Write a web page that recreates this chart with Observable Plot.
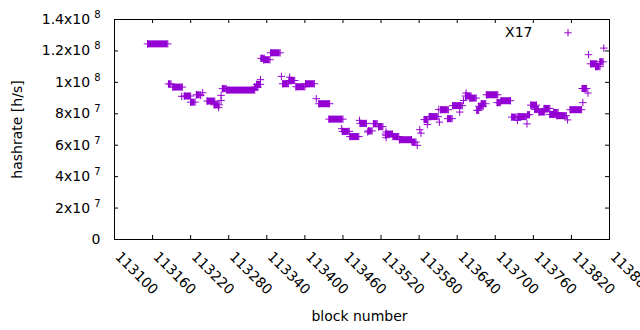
<!DOCTYPE html>
<html><head><meta charset="utf-8">
<script src="https://cdn.jsdelivr.net/npm/d3@7"></script>
<script src="https://cdn.jsdelivr.net/npm/@observablehq/plot@0.6"></script>
<style>
html,body{margin:0;padding:0;background:#fff;}
#chart{width:640px;height:330px;}
</style></head><body><div id="chart"></div>
<script>
// Runs of points (block range with the same hashrate); single points have start == end
const runStart = [113152,113185,113192,113206,113210,113220,113229,113236,113239,113246,113257,113264,113268,113268,113270,113277,113321,113324,113330,113331,113335,113346,113363,113365,113376,113375,113386,113401,113418,113422,113438,113458,113459,113471,113486,113487,113499,113500,113508,113516,113528,113528,113528,113527,113539,113549,113569,113577,113581,113583,113588,113593,113596,113611,113612,113614,113625,113633,113644,113650,113653,113654,113660,113671,113674,113678,113686,113703,113709,113726,113735,113736,113750,113751,113756,113762,113769,113777,113786,113792,113797,113814,113818,113838,113837,113846,113847,113850,113858,113865,113871];
const runEnd   = [113184,113189,113207,113206,113220,113227,113235,113236,113239,113258,113265,113264,113268,113268,113276,113321,113326,113330,113330,113336,113345,113361,113363,113374,113376,113384,113400,113415,113418,113439,113460,113458,113470,113485,113486,113497,113499,113506,113514,113523,113528,113528,113528,113538,113548,113568,113575,113577,113581,113583,113594,113593,113610,113611,113612,113626,113632,113648,113644,113650,113662,113654,113670,113674,113681,113685,113704,113708,113724,113733,113735,113749,113750,113754,113765,113768,113778,113786,113795,113799,113812,113814,113836,113838,113844,113846,113847,113860,113865,113870,113871];
const hashrate = [12.45e7,9.90e7,9.70e7,9.11e7,9.13e7,8.74e7,9.21e7,9.17e7,9.34e7,8.81e7,8.57e7,8.39e7,9.17e7,8.85e7,9.60e7,9.51e7,9.70e7,9.87e7,10.17e7,11.53e7,11.44e7,11.88e7,10.38e7,9.91e7,10.33e7,10.12e7,9.72e7,9.91e7,8.96e7,8.64e7,7.66e7,7.05e7,6.88e7,6.55e7,7.58e7,7.39e7,6.84e7,6.91e7,7.37e7,7.18e7,6.84e7,6.63e7,6.48e7,6.71e7,6.55e7,6.35e7,6.20e7,5.99e7,6.99e7,6.77e7,7.63e7,7.31e7,7.82e7,8.28e7,7.47e7,8.26e7,7.69e7,8.52e7,8.11e7,8.85e7,9.13e7,9.32e7,9.00e7,8.22e7,8.48e7,8.64e7,9.21e7,8.71e7,8.83e7,7.79e7,7.58e7,7.82e7,7.36e7,7.94e7,8.55e7,8.28e7,8.11e7,8.34e7,7.96e7,8.08e7,7.88e7,7.61e7,8.26e7,8.71e7,9.61e7,9.32e7,11.76e7,11.18e7,11.00e7,11.31e7,12.18e7];

const xTicks = [113100,113160,113220,113280,113340,113400,113460,113520,113580,113640,113700,113760,113820,113880];
const yTicks = [0,2e7,4e7,6e7,8e7,1e8,1.2e8,1.4e8];
const yTickLabels = ["0","2x10^7","4x10^7","6x10^7","8x10^7","1x10^8","1.2x10^8","1.4x10^8"];
const seriesName = "X17";
const xLabel = "block number";
const yLabel = "hashrate [h/s]";

const color = "#9400d3";
const W = 640, H = 330, mL = 114, mR = 31, mT = 19, mB = 91;
const plotW = W - mL - mR, plotH = H - mT - mB;

const runs = runStart.map((b1, i) => ({b1, b2: runEnd[i], v: hashrate[i]}));
const ends = runs.flatMap(d => d.b2 > d.b1 ? [{b: d.b1, v: d.v}, {b: d.b2, v: d.v}] : [{b: d.b1, v: d.v}]);

const plusSymbol = {
  draw(ctx, size) {
    const r = Math.sqrt(size / Math.PI);
    ctx.moveTo(-r, 0); ctx.lineTo(r, 0);
    ctx.moveTo(0, -r); ctx.lineTo(0, r);
  }
};

const chart = Plot.plot({
  width: W, height: H,
  marginLeft: mL, marginRight: mR, marginTop: mT, marginBottom: mB,
  style: {fontFamily: "'DejaVu Sans', sans-serif", fontSize: "14px", color: "#000", background: "#fff"},
  x: {domain: [113100, 113880], axis: null},
  y: {domain: [0, 1.4e8]},
  marks: [
    Plot.frame({stroke: "#000", strokeWidth: 1}),
    // inward ticks: bottom / top
    Plot.ruleX(xTicks.slice(1, -1), {x: d => d, insetTop: plotH - 4, stroke: "#000"}),
    Plot.ruleX(xTicks.slice(1, -1), {x: d => d, insetBottom: plotH - 4, stroke: "#000"}),
    // inward ticks: left / right
    Plot.ruleY(yTicks.slice(1, -1), {y: d => d, insetRight: plotW - 4, stroke: "#000"}),
    Plot.ruleY(yTicks.slice(1, -1), {y: d => d, insetLeft: plotW - 4, stroke: "#000"}),
    Plot.axisY({ticks: yTicks, tickSize: 0, tickPadding: 14, label: null,
      tickFormat: d => yTickLabels[yTicks.indexOf(d)]}),
    Plot.text(xTicks, {x: d => d, text: d => String(d), frameAnchor: "bottom", rotate: 45,
      textAnchor: "start", lineAnchor: "bottom", dy: 18, fill: "#000"}),
    Plot.text([xLabel], {frameAnchor: "bottom", lineAnchor: "bottom", textAnchor: "middle", dx: -2.5, dy: 81.5, fill: "#000"}),
    Plot.text([yLabel], {frameAnchor: "left", textAnchor: "middle", lineAnchor: "middle", dx: -97, rotate: -90, fill: "#000"}),
    // data
    Plot.ruleY(runs.filter(d => d.b2 > d.b1), {x1: "b1", x2: "b2", y: "v", stroke: color, strokeWidth: 7}),
    Plot.dot(ends, {x: "b", y: "v", symbol: plusSymbol, r: 3.7, stroke: color, strokeWidth: 1, fill: "none"}),
    // legend
    Plot.text([seriesName], {frameAnchor: "top-right", lineAnchor: "middle", dx: -77, dy: 12.8, textAnchor: "end", fill: "#000"}),
    Plot.dot([seriesName], {frameAnchor: "top-right", dx: -41.5, dy: 13.3, symbol: plusSymbol, r: 3.7, stroke: color, strokeWidth: 1, fill: "none"})
  ]
});

// superscript exponents on y tick labels
d3.select(chart).selectAll('g[aria-label="y-axis tick label"] text').each(function() {
  const t = d3.select(this);
  const parts = t.text().split("^");
  if (parts.length === 2) {
    t.text(null);
    t.append("tspan").text(parts[0]);
    t.append("tspan").attr("dx", 4).attr("dy", -6).attr("font-size", 10).text(parts[1]);
  }
});

document.getElementById("chart").appendChild(chart);
</script></body></html>
